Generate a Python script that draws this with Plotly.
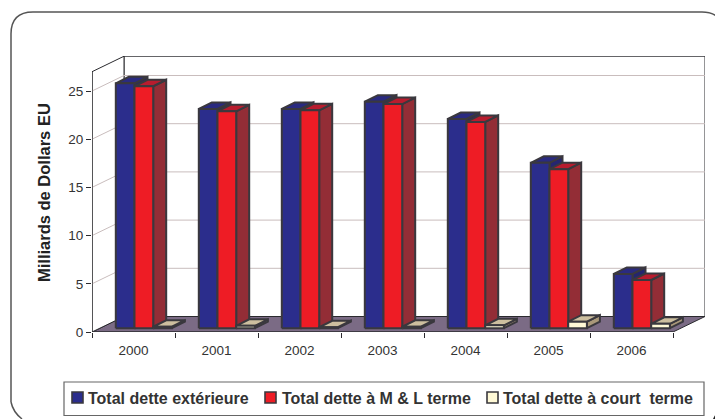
import plotly.graph_objects as go

years = ["2000", "2001", "2002", "2003", "2004", "2005", "2006"]
dette_exterieure = [25.4, 22.75, 22.75, 23.5, 21.7, 17.15, 5.63]
dette_ml_terme = [25.1, 22.5, 22.6, 23.25, 21.4, 16.5, 5.0]
dette_court_terme = [0.15, 0.25, 0.1, 0.15, 0.3, 0.68, 0.45]
y_ticks = [0, 5, 10, 15, 20, 25]

series = [
    ("Total dette extérieure", dette_exterieure, "#2b2d8c", "#2a2a80", "#252570"),
    ("Total dette à M & L terme", dette_ml_terme, "#ee1c25", "#b81c2e", "#932d36"),
    ("Total dette à court  terme", dette_court_terme, "#fff9d6", "#cdbf9f", "#a9987a"),
]

# The page body has an 8 px margin, so the figure is 8 px smaller than the window
PAGE = 8
W, H = 723 - PAGE, 419 - PAGE
LEFT, RIGHT, TOP, BOTTOM = 92, 705, 56, 332   # plot box, window pixels
UX, UY = 83.0, 9.64                           # pixels per axis unit
X_MAX = (RIGHT - LEFT) / UX
Y_MAX = (BOTTOM - TOP) / UY
N = len(years)
DX, DY = 32 / UX, 15.5 / UY                   # chart depth, axis units
WALL_TOP = 27.0
BAR_W = 18.7 / UX
BAR_START = 15.3 / UX
BAR_DX, BAR_DY = 13 / UX, 6.5 / UY            # bar depth
FLOOR_DX, FLOOR_DY = 8.5 / UX, 3.8 / UY       # depth of the front of the bars
OUTLINE = "#3a383e"
AXIS = "#2a2a2e"
GRID = "#c9bdbd"
TEXT = "#333333"


def poly(xs, ys, fill, line=OUTLINE, width=2.0):
    return go.Scatter(
        x=xs + xs[:1], y=ys + ys[:1], mode="lines", fill="toself", fillcolor=fill,
        line=dict(color=line, width=width), hoverinfo="skip", showlegend=False,
    )


def seg(xs, ys, color, width=1.0):
    return go.Scatter(
        x=xs, y=ys, mode="lines", line=dict(color=color, width=width),
        hoverinfo="skip", showlegend=False,
    )


fig = go.Figure()

# Floor and walls
fig.add_trace(poly([0, N, N + DX, DX], [0, 0, DY, DY], "#7b6b85", AXIS, 1))
fig.add_trace(poly([DX, N + DX, N + DX, DX], [DY, DY, WALL_TOP + DY, WALL_TOP + DY], "#ffffff", AXIS, 1))
fig.add_trace(poly([0, DX, DX, 0], [0, DY, WALL_TOP + DY, WALL_TOP], "#ffffff", AXIS, 1))

# Gridlines
for v in y_ticks[1:]:
    fig.add_trace(seg([0, DX, N + DX], [v, v + DY, v + DY], GRID))

# Bars
for i in range(N):
    for k, (name, values, front, top, side) in enumerate(series):
        v = values[i]
        x0 = i + FLOOR_DX + BAR_START + k * BAR_W
        x1 = x0 + BAR_W
        y0 = FLOOR_DY
        y1 = y0 + v
        fig.add_trace(poly([x1, x1 + BAR_DX, x1 + BAR_DX, x1],
                           [y0, y0 + BAR_DY, y1 + BAR_DY, y1], side))
        fig.add_trace(poly([x0, x1, x1 + BAR_DX, x0 + BAR_DX],
                           [y1, y1, y1 + BAR_DY, y1 + BAR_DY], top))
        fig.add_trace(poly([x0, x1, x1, x0], [y0, y0, y1, y1], front))

# Axis lines in front
fig.add_trace(seg([0, 0], [0, WALL_TOP], AXIS, 1.2))
fig.add_trace(seg([0, N], [0, 0], AXIS, 1.2))

# Year labels live on a second axis so the ticks can sit between categories
fig.add_trace(go.Scatter(x=[None], y=[None], xaxis="x2", showlegend=False, hoverinfo="skip"))


def px(v):
    return (v - PAGE) / W


def py(v):
    return 1 - (v - PAGE) / H


def p(x, y):
    return f"{px(x):.5f} {py(y):.5f}"


shapes = [
    dict(type="path", xref="paper", yref="paper", layer="below",
         path=(f"M {p(11, 402)} L {p(11, 34)} Q {p(11, 12)} {p(33, 12)} "
               f"L {p(702, 12)} Q {p(717, 12)} {p(723, 24)} "
               f"M {p(11, 402)} Q {p(13, 412)} {p(22, 419)}"),
         line=dict(color="#555555", width=1.5)),
    dict(type="path", xref="paper", yref="paper", layer="below",
         path=f"M {p(713, 419)} Q {p(717, 411)} {p(723, 405)} L {p(723, 419)} Z",
         line=dict(width=0), fillcolor="#222222"),
    dict(type="rect", xref="paper", yref="paper", layer="below",
         x0=px(64), x1=px(704), y0=py(382), y1=py(415.5),
         line=dict(color="#666666", width=1.2), fillcolor="#ffffff"),
]

# Legend, positioned to match the reference's tight spacing
annotations = []
legend_swatch_x = [72, 265, 487]
legend_text_x = [87, 281, 502]
for (name, values, front, top, side), sx, tx in zip(series, legend_swatch_x, legend_text_x):
    shapes.append(dict(type="rect", xref="paper", yref="paper",
                       x0=px(sx), x1=px(sx + 11), y0=py(392), y1=py(403),
                       line=dict(color=OUTLINE, width=1.6), fillcolor=front))
    annotations.append(dict(text=f"<b>{name.replace('  ', chr(160) + ' ')}</b>", xref="paper", yref="paper",
                            x=px(tx), y=py(398), xanchor="left", yanchor="middle",
                            showarrow=False, xshift=-1,
                            font=dict(size=16, color=TEXT)))

annotations.append(dict(text="<b>Milliards de Dollars EU</b>", xref="paper", yref="paper",
                        x=px(44), y=py(193), textangle=-90, showarrow=False,
                        xanchor="center", yanchor="middle",
                        font=dict(size=16.5, color="#222222")))

fig.update_layout(
    width=W + PAGE, height=H + PAGE, autosize=False,
    margin=dict(l=0, r=PAGE, t=0, b=PAGE, pad=0),
    paper_bgcolor="#ffffff", plot_bgcolor="rgba(0,0,0,0)",
    font=dict(family="Liberation Sans, Arial, sans-serif", color=TEXT, size=13),
    xaxis=dict(domain=[px(LEFT), px(RIGHT)], range=[0, X_MAX], tickmode="array",
               tickvals=list(range(N + 1)), ticktext=[""] * (N + 1), ticks="outside",
               ticklen=5, tickwidth=1, tickcolor=AXIS, showgrid=False, zeroline=False,
               showline=False, fixedrange=True),
    xaxis2=dict(range=[0, X_MAX], overlaying="x", side="bottom", anchor="y",
                tickmode="array", tickvals=[i + 0.5 for i in range(N)], ticktext=years,
                ticks="", ticklabelstandoff=8, showgrid=False, zeroline=False,
                showline=False, tickfont=dict(size=13.5, color=TEXT), fixedrange=True),
    yaxis=dict(domain=[py(BOTTOM), py(TOP)], range=[0, Y_MAX], tickmode="array",
               tickvals=y_ticks, ticks="outside", ticklen=5, tickwidth=1, tickcolor=AXIS,
               showgrid=False, zeroline=False, showline=False,
               tickfont=dict(size=13.5, color=TEXT), fixedrange=True),
    showlegend=False,
    shapes=shapes,
    annotations=annotations,
)

fig.write_html("out.html")
